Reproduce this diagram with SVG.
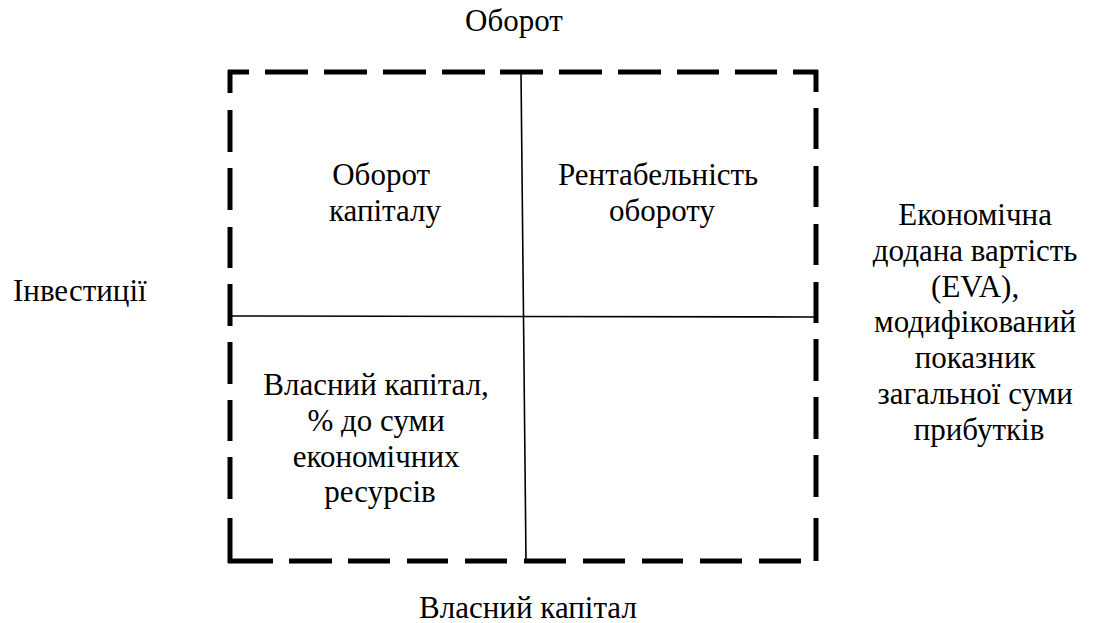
<svg xmlns="http://www.w3.org/2000/svg" width="1101" height="623" viewBox="0 0 1101 623">
  <style>
    .frame { fill: none; stroke: #000; stroke-width: 5; stroke-linecap: butt; }
    .axis { fill: none; stroke: #000; stroke-width: 1.6; }
    text { font-family: 'Liberation Serif', 'Times New Roman', serif; font-size: 31px; fill: #000; }
    .lbl { text-anchor: middle; }
  </style>
  <rect width="1101" height="623" fill="#fff"/>

  <!-- dashed outer frame drawn as explicit dash segments -->
  <g id="frame">
    <!-- top edge -->
    <path class="frame" d="M228 72 H249 M265 72 H308 M324 72 H367 M383 72 H426 M442 72 H485 M500 72 H543 M559 72 H602 M618 72 H661 M677 72 H719 M735 72 H777 M793 72 H818"/>
    <!-- left edge with corners -->
    <path class="frame" d="M230 70 V93 M230 110 V152 M230 168 V210 M230 227 V268 M230 284 V326 M230 342 V384 M230 400 V441 M230 457 V499 M230 518 V563"/>
    <!-- right edge -->
    <path class="frame" d="M816 70 V92 M816 108 V149 M816 166 V207 M816 224 V265 M816 282 V323 M816 339 V381 M816 397 V439 M816 455 V497 M816 518 V561"/>
    <!-- bottom edge -->
    <path class="frame" d="M228 561 H273 M289 561 H332 M348 561 H390 M407 561 H448 M465 561 H507 M524 561 H566 M583 561 H625 M642 561 H683 M700 561 H742 M759 561 H801"/>
  </g>

  <!-- dividing axes -->
  <g id="connectors">
    <line class="axis" x1="521" y1="72" x2="526" y2="561"/>
    <line class="axis" x1="232" y1="316" x2="816" y2="317"/>
  </g>

  <g id="label-top">
    <text class="lbl" x="514" y="31">Оборот</text>
  </g>
  <g id="label-bottom">
    <text class="lbl" x="528" y="618">Власний капітал</text>
  </g>
  <g id="label-left">
    <text x="13" y="301">Інвестиції</text>
  </g>
  <g id="label-right">
    <text class="lbl" x="979">
      <tspan x="979" y="225">Економічна</tspan>
      <tspan x="979" y="260.8">додана вартість</tspan>
      <tspan x="979" y="296.6">(EVA),</tspan>
      <tspan x="979" y="332.4">модифікований</tspan>
      <tspan x="979" y="368.2">показник</tspan>
      <tspan x="979" y="404">загальної суми</tspan>
      <tspan x="979" y="439.8">прибутків</tspan>
    </text>
  </g>

  <g id="q-top-left">
    <text class="lbl">
      <tspan x="385" y="185">Оборот</tspan>
      <tspan x="385" y="220.8">капіталу</tspan>
    </text>
  </g>
  <g id="q-top-right">
    <text class="lbl">
      <tspan x="662" y="185">Рентабельність</tspan>
      <tspan x="662" y="220.8">обороту</tspan>
    </text>
  </g>
  <g id="q-bottom-left">
    <text class="lbl">
      <tspan x="380" y="395">Власний капітал,</tspan>
      <tspan x="380" y="430.8">% до суми</tspan>
      <tspan x="380" y="466.6">економічних</tspan>
      <tspan x="380" y="502.4">ресурсів</tspan>
    </text>
  </g>
</svg>
